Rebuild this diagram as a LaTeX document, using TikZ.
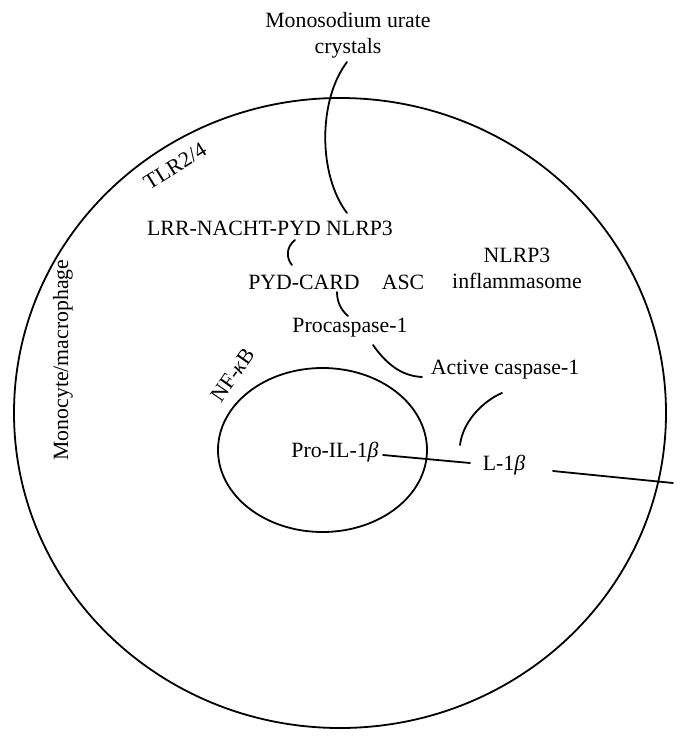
\documentclass[tikz,border=0pt]{standalone}
\usepackage{fontspec}
\setmainfont{Liberation Serif}
\begin{document}
\begin{tikzpicture}[x=0.5pt,y=-0.5pt,
  lbl/.style={inner sep=0pt,font=\fontsize{10.9}{13}\selectfont,align=center},
  wire/.style={line width=0.9pt,line cap=round}]
\useasboundingbox (0,0) rectangle (688,744);
% cells
\draw[wire] (340,413) coordinate (cellc) ellipse [x radius=163pt, y radius=157.5pt];
\draw[wire] (322.5,450) coordinate (nucc) ellipse [x radius=52.25pt, y radius=41pt];
% labels
\node[lbl] (crys) at (348,35) {Monosodium urate\\crystals};
\node[lbl] (lrr) at (270,228) {LRR-NACHT-PYD NLRP3};
\node[lbl] (pyd) at (304,282) {PYD-CARD};
\node[lbl] (asc) at (403,282) {ASC};
\node[lbl] (infl) at (517,268) {NLRP3\\inflammasome};
\node[lbl] (proc) at (350,328) {Procaspase-1};
\node[lbl] (act) at (505,370) {Active caspase-1};
\node[lbl] (proil) at (335,452) {Pro-IL-1\textit{β}};
\node[lbl] (il) at (504,465) {L-1\textit{β}};
\node[lbl,rotate=32] (tlr) at (175,166) {TLR2/4};
\node[lbl,rotate=55] (nfkb) at (233,375) {NF-\textit{κ}B};
\node[lbl,rotate=90] (mono) at (63,360) {Monocyte/macrophage};
% connector end points
\coordinate (a1) at (347,62);
\coordinate (a2) at (347,213);
\coordinate (b1) at (295,240);
\coordinate (b2) at (292,265);
\coordinate (d1) at (337,292);
\coordinate (d2) at (348,316);
\coordinate (e1) at (373,345);
\coordinate (e2) at (422,377);
\coordinate (f1) at (502,393);
\coordinate (f2) at (460,445);
\coordinate (g1) at (383,455);
\coordinate (g2) at (470,463);
\coordinate (h1) at (553,471);
\coordinate (h2) at (673,483);
% connectors
\draw[wire] (a1) .. controls (318,100) and (318,175) .. (a2);
\draw[wire] (b1) .. controls (286,247) and (286,258) .. (b2);
\draw[wire] (d1) .. controls (337,302) and (341,310) .. (d2);
\draw[wire] (e1) .. controls (385,362) and (400,376) .. (e2);
\draw[wire] (f1) .. controls (485,400) and (463,420) .. (f2);
\draw[wire] (g1) -- (g2);
\draw[wire] (h1) -- (h2);
\end{tikzpicture}
\end{document}
